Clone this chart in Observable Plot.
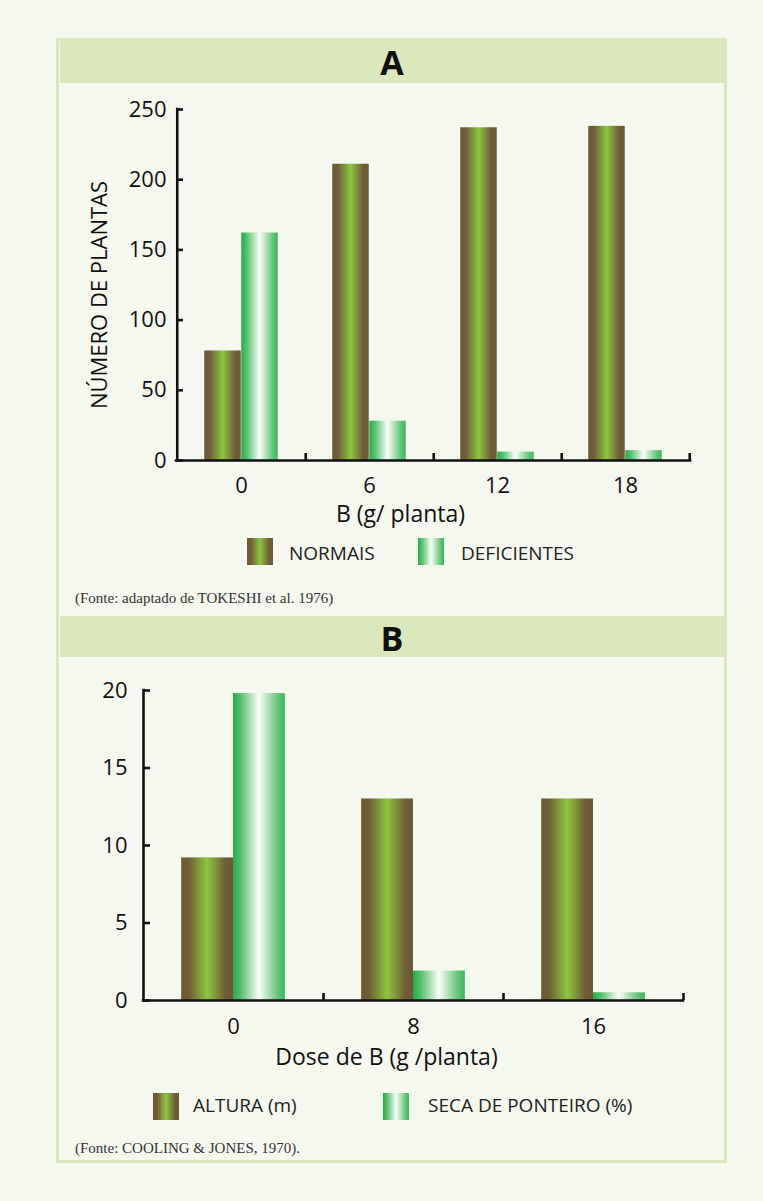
<!DOCTYPE html>
<html><head><meta charset="utf-8">
<script src="https://cdn.jsdelivr.net/npm/d3@7"></script>
<script src="https://cdn.jsdelivr.net/npm/@observablehq/plot@0.6"></script>
<style>
html,body{margin:0;padding:0;background:#f5f8ee;width:763px;height:1201px;overflow:hidden;font-family:"Open Sans",sans-serif;}
#panel{position:absolute;left:56px;top:38px;width:671px;height:1125px;border:3px solid #dbe8be;box-sizing:border-box;}
.hdr{position:absolute;left:60px;width:664px;background:#dbe8be;text-align:center;font-weight:700;font-size:34px;color:#111;}
.chart{position:absolute;left:0;}
.sw{position:absolute;width:26px;height:27px;}
.lt{position:absolute;font-size:19px;line-height:19px;font-weight:400;color:#222;white-space:nowrap;}
.cap{position:absolute;left:75px;font-family:"Liberation Serif",serif;font-size:15px;line-height:18px;color:#333;white-space:nowrap;}
</style></head>
<body>
<svg width="0" height="0" style="position:absolute">
 <defs>
  <linearGradient id="gBrown" x1="0" x2="1" y1="0" y2="0">
   <stop offset="0" stop-color="#6b5a37"/>
   <stop offset="0.15" stop-color="#705d38"/>
   <stop offset="0.5" stop-color="#8dc63f"/>
   <stop offset="0.85" stop-color="#705d38"/>
   <stop offset="1" stop-color="#6b5a37"/>
  </linearGradient>
  <linearGradient id="gGreen" x1="0" x2="1" y1="0" y2="0">
   <stop offset="0" stop-color="#1fb04b"/>
   <stop offset="0.15" stop-color="#55bf6d"/>
   <stop offset="0.5" stop-color="#fbfdf8"/>
   <stop offset="0.85" stop-color="#6ac67f"/>
   <stop offset="1" stop-color="#3cb65b"/>
  </linearGradient>
 </defs>
</svg>
<div id="panel"></div>
<div class="hdr" style="top:38px;height:45px;line-height:48px;">A</div>
<div class="hdr" style="top:616px;height:41px;line-height:45px;">B</div>
<div id="chartA" class="chart" style="top:90px"></div>
<div id="chartB" class="chart" style="top:670px"></div>

<div class="sw" style="left:247px;top:538px;background:linear-gradient(to right,#6b5a37,#705d38 15%,#8dc63f 50%,#705d38 85%,#6b5a37)"></div>
<div class="lt" style="left:289px;top:544px">NORMAIS</div>
<div class="sw" style="left:418px;top:538px;background:linear-gradient(to right,#1fb04b,#55bf6d 15%,#fbfdf8 50%,#6ac67f 85%,#3cb65b)"></div>
<div class="lt" style="left:461px;top:544px">DEFICIENTES</div>
<div class="cap" style="top:589px">(Fonte: adaptado de TOKESHI et al. 1976)</div>

<div class="sw" style="left:153px;top:1093px;background:linear-gradient(to right,#6b5a37,#705d38 15%,#8dc63f 50%,#705d38 85%,#6b5a37)"></div>
<div class="lt" style="left:193px;top:1096px">ALTURA (m)</div>
<div class="sw" style="left:383px;top:1093px;background:linear-gradient(to right,#1fb04b,#55bf6d 15%,#fbfdf8 50%,#6ac67f 85%,#3cb65b)"></div>
<div class="lt" style="left:428px;top:1096px">SECA DE PONTEIRO (%)</div>
<div class="cap" style="top:1139px">(Fonte: COOLING &amp; JONES, 1970).</div>

<script>
// ---- Data A ----
const catsA = ["0", "6", "12", "18"];
const normais = [78, 211, 237, 238];
const deficientes = [162, 28, 6, 7];
const ticksA = [0, 50, 100, 150, 200, 250];
const labelAx = "B (g/ planta)";
const labelAy = "NÚMERO DE PLANTAS";

// ---- Data B ----
const catsB = ["0", "8", "16"];
const altura = [9.2, 13.0, 13.0];
const seca = [19.8, 1.9, 0.5];
const ticksB = [0, 5, 10, 15, 20];
const labelBx = "Dose de B (g /planta)";

const ink = "#111";

function grouped({cats, s1, s2, ticks, ymax, width, height, ml, mr, mt, mb, ypad, xpad, title, titleDx, titleDy, ylabel}) {
  const data1 = cats.map((c, i) => ({cat: c, v: s1[i]}));
  const data2 = cats.map((c, i) => ({cat: c, v: s2[i]}));
  const fw = width - ml - mr, fh = height - mt - mb;
  const bw = fw / cats.length;
  const w = bw * 0.288;
  const a = (bw - 2 * w) / 2;
  const marks = [
    Plot.barY(data1, {x: "cat", y: "v", fill: "url(#gBrown)", insetLeft: a, insetRight: bw - a - w}),
    Plot.barY(data2, {x: "cat", y: "v", fill: "url(#gGreen)", insetLeft: a + w, insetRight: bw - a - 2 * w}),
    Plot.ruleY([0], {stroke: ink, strokeWidth: 2.6, strokeLinecap: "square"}),
    Plot.tickX([cats[0]], {x: d => d, dx: -bw / 2, stroke: ink, strokeWidth: 2.6, strokeLinecap: "square"}),
    Plot.tickX(cats, {x: d => d, dx: bw / 2, insetTop: fh - 7, stroke: ink, strokeWidth: 2.6}),
    Plot.tickY(ticks, {y: d => d, insetRight: fw - 7, stroke: ink, strokeWidth: 2.6}),
    Plot.axisX({tickSize: 0, tickPadding: xpad, fontSize: 22, label: null}),
    Plot.axisY({ticks, tickSize: 0, tickPadding: ypad, fontSize: 22, label: null}),
    Plot.text([title], {frameAnchor: "bottom", textAnchor: "middle", lineAnchor: "top", dx: titleDx, dy: titleDy, fontSize: 23, fill: ink})
  ];
  if (ylabel) {
    marks.push(Plot.text([ylabel], {frameAnchor: "left", textAnchor: "middle", rotate: -90, dx: -77, dy: 10, lineAnchor: "middle", fontSize: 22, fill: ink}));
  }
  return Plot.plot({
    width, height, marginLeft: ml, marginRight: mr, marginTop: mt, marginBottom: mb,
    style: {background: "transparent", color: ink, fontFamily: "'Open Sans', sans-serif", overflow: "visible"},
    x: {domain: cats, padding: 0, axis: null},
    y: {domain: [0, ymax], axis: null},
    marks
  });
}

document.getElementById("chartA").appendChild(grouped({
  cats: catsA, s1: normais, s2: deficientes, ticks: ticksA, ymax: 250,
  width: 763, height: 440, ml: 176, mr: 73, mt: 19, mb: 70, ypad: 10, xpad: 17,
  title: labelAx, titleDx: -33, titleDy: 45, ylabel: labelAy
}));
document.getElementById("chartB").appendChild(grouped({
  cats: catsB, s1: altura, s2: seca, ticks: ticksB, ymax: 20,
  width: 763, height: 410, ml: 143, mr: 80, mt: 20, mb: 80, ypad: 16, xpad: 18,
  title: labelBx, titleDx: -27, titleDy: 48, ylabel: null
}));
</script>
</body></html>
